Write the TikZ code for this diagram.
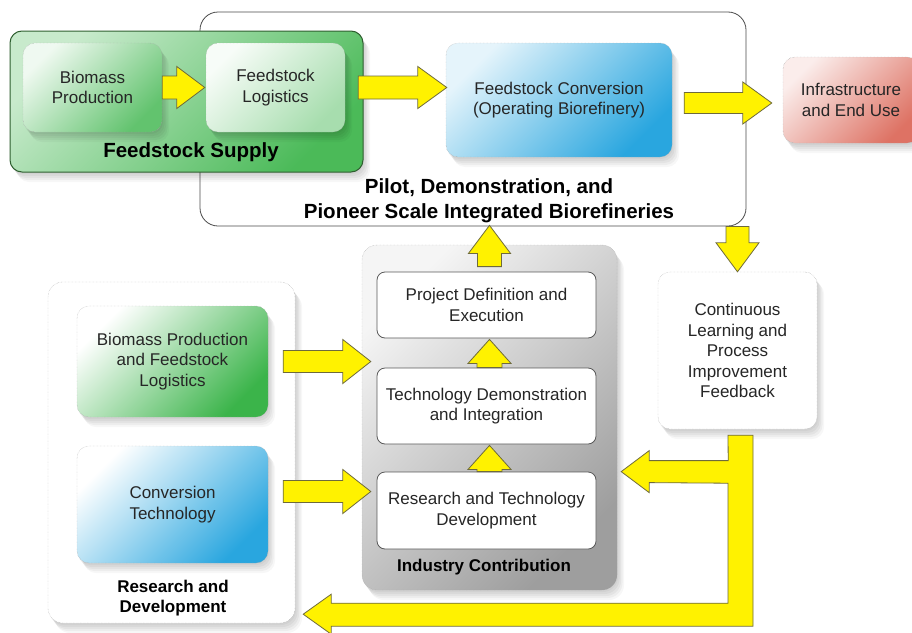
\documentclass[tikz,border=0pt]{standalone}
\usepackage{fontspec}
\setmainfont{Liberation Sans}
\usetikzlibrary{calc,shadows}
\definecolor{arrowfill}{HTML}{FFF200}
\definecolor{arrowedge}{HTML}{6E6A3C}
\definecolor{leaf}{HTML}{3BB44A}
\definecolor{leafdark}{HTML}{2F5F30}
\definecolor{sky}{HTML}{29A6DF}
\definecolor{brick}{HTML}{DC6B5C}
\tikzset{
  txt/.style={font=\fontsize{17}{20.5}\selectfont, text=black!85, align=center},
  title/.style={font=\fontsize{20.5}{25}\selectfont\bfseries, align=center},
  subtitle/.style={font=\fontsize{17}{20}\selectfont\bfseries, align=center},
  soft/.style={general shadow={fill=black, opacity=0.04, shadow xshift=1pt, shadow yshift=-2pt},
               general shadow={fill=black, opacity=0.04, shadow xshift=2.5pt, shadow yshift=-4pt},
               general shadow={fill=black, opacity=0.04, shadow xshift=4pt, shadow yshift=-6pt},
               general shadow={fill=black, opacity=0.04, shadow xshift=5.5pt, shadow yshift=-8pt},
               general shadow={fill=black, opacity=0.03, shadow xshift=7pt, shadow yshift=-10pt}},
  tile/.style={txt, rounded corners=12pt, inner sep=0pt, draw=black!35, densely dotted, line width=0.4pt, soft},
  grad/.style 2 args={left color=#1, right color=#2, shading angle=45},
  step box/.style={txt, rounded corners=8pt, fill=white, draw=black!65, line width=0.8pt,
                   minimum width=219pt, inner sep=0pt},
  fat/.style={fill=arrowfill, draw=arrowedge, line width=0.8pt, line join=miter}
}
% start, tip, shaft half width, head half width, head length
\newcommand{\fatarrow}[5]{%
  \coordinate (fs) at #1; \coordinate (ft) at #2;
  \coordinate (fb) at ($(ft)!#5!(fs)$);
  \draw[fat] ($(fs)!#3!90:(ft)$) -- ($(fb)!#3!90:(ft)$) -- ($(fb)!#4!90:(ft)$) -- (ft)
    -- ($(fb)!#4!-90:(ft)$) -- ($(fb)!#3!-90:(ft)$) -- ($(fs)!#3!-90:(ft)$) -- cycle;}

\begin{document}
\begin{tikzpicture}[x=1pt,y=-1pt]
  \useasboundingbox (0,0) rectangle (912,632);
  \fill[white] (0,0) rectangle (912,632);

  % top row
  \node (pilot) [draw=black!70, line width=0.8pt, rounded corners=18pt, minimum width=546pt, minimum height=214pt] at (473,119) {};
  \node (pilottxt) [title] at (489,201) {Pilot, Demonstration, and\\Pioneer Scale Integrated Biorefineries};
  \node (fsup) [rounded corners=12pt, draw=leafdark, line width=1pt, grad={leaf!28}{leaf!92}, soft, minimum width=353pt, minimum height=141pt] at (186.5,101.5) {};
  \node (fsuptxt) [title] at (191,152) {Feedstock Supply};
  \node (bp) [tile, grad={leaf!8}{leaf!80}, minimum width=139pt, minimum height=89pt] at (92.5,87.5) {Biomass\\Production};
  \node (flog) [tile, grad={leaf!4}{leaf!45}, minimum width=139pt, minimum height=89pt] at (275.5,87.5) {Feedstock\\Logistics};
  \node (conv) [tile, grad={sky!12}{sky}, minimum width=226pt, minimum height=114pt] at (559,100) {Feedstock Conversion\\(Operating Biorefinery)};
  \node (infra) [tile, grad={brick!12}{brick!95}, minimum width=136pt, minimum height=86pt] at (851,100) {Infrastructure\\and End Use};

  % lower part
  \node (rnd) [tile, fill=white, rounded corners=15pt, minimum width=247pt, minimum height=341pt] at (171.5,452.5) {};
  \node (rndtxt) [subtitle] at (173,598) {Research and\\Development};
  \node (bpfl) [tile, grad={white}{leaf}, minimum width=191pt, minimum height=111pt] at (172.5,361.5) {Biomass Production\\and Feedstock\\Logistics};
  \node (ctech) [tile, grad={white}{sky}, minimum width=191pt, minimum height=117pt] at (172.5,504.5) {Conversion\\Technology};
  \node (indc) [tile, rounded corners=15pt, grad={black!4}{black!38}, minimum width=255pt, minimum height=345pt] at (489.5,417.5) {};
  \node (indctxt) [subtitle] at (484,567) {Industry Contribution};
  \node (pde) [step box, minimum height=66pt] at (486.5,305) {Project Definition and\\Execution};
  \node (tdi) [step box, minimum height=76pt] at (486.5,406) {Technology Demonstration\\and Integration};
  \node (rtd) [step box, minimum height=77pt] at (486.5,510.5) {Research and Technology\\Development};
  \node (cont) [tile, fill=white, minimum width=159pt, minimum height=157pt] at (737.5,350.5) {Continuous\\Learning and\\Process\\Improvement\\Feedback};

  % block arrows
  \fatarrow{(bp.east)}{([xshift=-1pt]flog.west)}{11.5pt}{21pt}{28pt}
  \fatarrow{([xshift=13pt]flog.east)}{($(conv.west |- flog.east)+(1,0)$)}{11.5pt}{21pt}{29pt}
  \fatarrow{([xshift=12pt,yshift=-3pt]conv.east)}{([xshift=-11pt,yshift=-3pt]infra.west)}{10.5pt}{21pt}{29pt}
  \fatarrow{([xshift=3pt,yshift=5pt]pde.north)}{($(pde.north |- pilot.south)+(3,-1)$)}{12pt}{21pt}{28pt}
  \fatarrow{(cont.north |- pilot.south)}{(cont.north)}{11.5pt}{21.5pt}{29pt}
  \fatarrow{([xshift=3pt]tdi.north)}{([xshift=3pt,yshift=-1pt]pde.south)}{12.5pt}{21.5pt}{24pt}
  \fatarrow{([xshift=3pt]rtd.north)}{([xshift=3pt,yshift=-1pt]tdi.south)}{12.5pt}{21.5pt}{24pt}
  \fatarrow{([xshift=15pt]bpfl.east)}{($(indc.west |- bpfl.east)+(9,0)$)}{11pt}{22pt}{28pt}
  \fatarrow{([xshift=15pt,yshift=13pt]ctech.east)}{($(indc.west |- ctech.east)+(9,-13)$)}{11pt}{22pt}{28pt}

  % feedback loop
  \coordinate (fbtop) at ([xshift=3pt,yshift=-6pt]cont.south);
  \coordinate (fbmid) at ([xshift=4pt]indc.east |- rtd.north);
  \coordinate (fblow) at ([xshift=8pt,yshift=9pt]rnd.south east);
  \draw[fat] ([xshift=-12.5pt]fbtop) -- ++(25,0) |- ([xshift=28pt,yshift=-12pt]fblow) -- ++(0,8) -- (fblow)
    -- ++(28,-20) -- ++(0,9) -| ([xshift=-12.5pt,yshift=-48pt]fbtop) -- ([xshift=28pt,yshift=-11pt]fbmid)
    -- ++(0,10) -- (fbmid) -- ++(28,-21) -- ++(0,10) -- ++(79,0) -- cycle;
\end{tikzpicture}
\end{document}
